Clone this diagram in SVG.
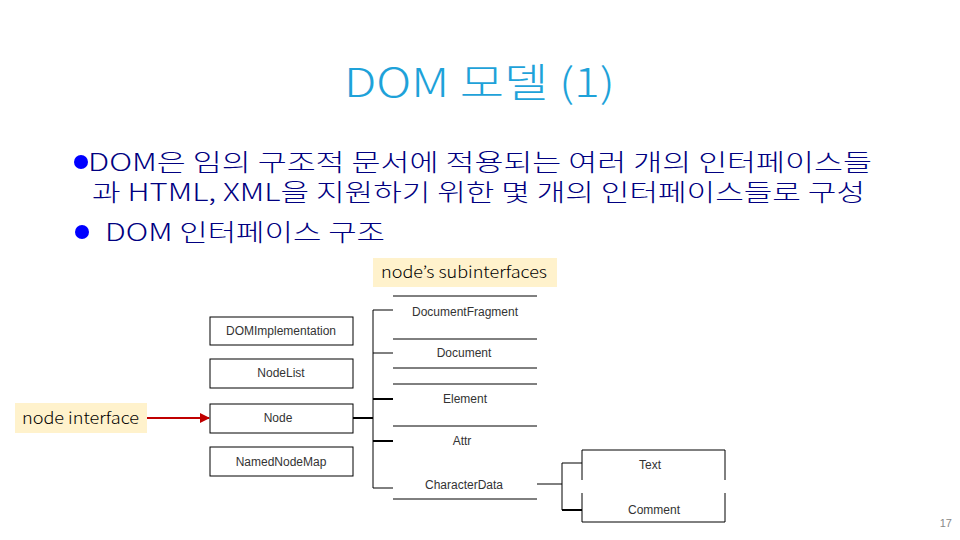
<svg xmlns="http://www.w3.org/2000/svg" width="960" height="540" viewBox="0 0 960 540">
<style>
.title{font-family:"Noto Sans CJK KR","Noto Sans",sans-serif;font-size:40px;fill:#1EA2D9;font-weight:300}
.body{font-family:"Noto Sans CJK KR","Noto Sans",sans-serif;font-size:24px;fill:#000080;font-weight:300}
.bul{fill:#0000FF}
.box{fill:#fff;stroke:#000;stroke-width:1}
.ln{stroke:#000;stroke-width:1;fill:none}
.lnb{stroke:#000;stroke-width:2;fill:none}
.lbl{font-family:"Liberation Sans",Arial,sans-serif;font-size:12px;fill:#333;text-anchor:middle}
.note{fill:#FFF2CC}
.notet{font-family:"Noto Sans CJK KR","Noto Sans",sans-serif;font-size:16px;fill:#000;font-weight:300}
</style>
<defs>
<marker id="arr" viewBox="0 0 10 10" refX="9" refY="5" markerWidth="5" markerHeight="5" orient="auto"><path d="M0,0 L10,5 L0,10 z" fill="#C00000"/></marker>
</defs>
<text class="title" x="344" y="97" textLength="271" lengthAdjust="spacingAndGlyphs">DOM 모델 (1)</text>
<g id="bullets">
<circle class="bul" cx="81" cy="162" r="7"/>
<text class="body" x="88" y="171" textLength="784" lengthAdjust="spacingAndGlyphs">DOM은 임의 구조적 문서에 적용되는 여러 개의 인터페이스들</text>
<text class="body" x="92" y="201" textLength="773" lengthAdjust="spacingAndGlyphs">과 HTML, XML을 지원하기 위한 몇 개의 인터페이스들로 구성</text>
<circle class="bul" cx="82" cy="232" r="7"/>
<text class="body" x="105" y="241" textLength="280" lengthAdjust="spacingAndGlyphs">DOM 인터페이스 구조</text>
</g>
<g id="connectors">
<line class="lnb" x1="353" y1="418" x2="373" y2="418"/>
<line class="ln" x1="373" y1="310" x2="373" y2="488"/>
<line class="ln" x1="373" y1="310" x2="393" y2="310"/>
<line class="ln" x1="373" y1="353" x2="393" y2="353"/>
<line class="lnb" x1="373" y1="399" x2="393" y2="399"/>
<line class="lnb" x1="373" y1="441" x2="393" y2="441"/>
<line class="ln" x1="373" y1="488" x2="393" y2="488"/>
<line class="ln" x1="537" y1="484" x2="562" y2="484"/>
<line class="ln" x1="562" y1="463" x2="562" y2="510"/>
<line class="ln" x1="562" y1="463" x2="582" y2="463"/>
<line class="lnb" x1="562" y1="510" x2="582" y2="510"/>
<line x1="147" y1="418" x2="209" y2="418" stroke="#C00000" stroke-width="2" marker-end="url(#arr)"/>
</g>
<g id="DOMImplementation"><rect class="box" x="210" y="317" width="143" height="28"/><text class="lbl" x="281" y="335">DOMImplementation</text></g>
<g id="NodeList"><rect class="box" x="210" y="359" width="143" height="29"/><text class="lbl" x="281" y="377">NodeList</text></g>
<g id="Node"><rect class="box" x="210" y="404" width="143" height="29"/><text class="lbl" x="278" y="422">Node</text></g>
<g id="NamedNodeMap"><rect class="box" x="210" y="447" width="143" height="29"/><text class="lbl" x="281" y="466">NamedNodeMap</text></g>
<g id="subinterfaces">
<line class="ln" x1="393" y1="296" x2="537" y2="296"/>
<line class="ln" x1="393" y1="339" x2="537" y2="339"/>
<line class="ln" x1="393" y1="368" x2="537" y2="368"/>
<line class="ln" x1="393" y1="384" x2="537" y2="384"/>
<line class="ln" x1="393" y1="426" x2="537" y2="426"/>
<line class="ln" x1="393" y1="499" x2="537" y2="499"/>
</g>
<g id="DocumentFragment"><text class="lbl" x="465" y="316">DocumentFragment</text></g>
<g id="Document"><text class="lbl" x="464" y="357">Document</text></g>
<g id="Element"><text class="lbl" x="465" y="403">Element</text></g>
<g id="Attr"><text class="lbl" x="462" y="445">Attr</text></g>
<g id="CharacterData"><text class="lbl" x="464" y="489">CharacterData</text></g>
<g id="Text"><path class="ln" d="M582,480 V450 H725 V480"/><text class="lbl" x="650" y="469">Text</text></g>
<g id="Comment"><path class="ln" d="M582,493 V522 H725 V493"/><text class="lbl" x="654" y="514">Comment</text></g>
<g id="note-sub"><rect class="note" x="373" y="258" width="184" height="29"/><text class="notet" x="381" y="278" textLength="166" lengthAdjust="spacingAndGlyphs">node’s subinterfaces</text></g>
<g id="note-node"><rect class="note" x="15" y="403" width="132" height="30"/><text class="notet" x="22" y="424" textLength="117" lengthAdjust="spacingAndGlyphs">node interface</text></g>
<text x="952" y="527" text-anchor="end" font-family="Liberation Sans,Arial,sans-serif" font-size="11" fill="#888">17</text>
</svg>
